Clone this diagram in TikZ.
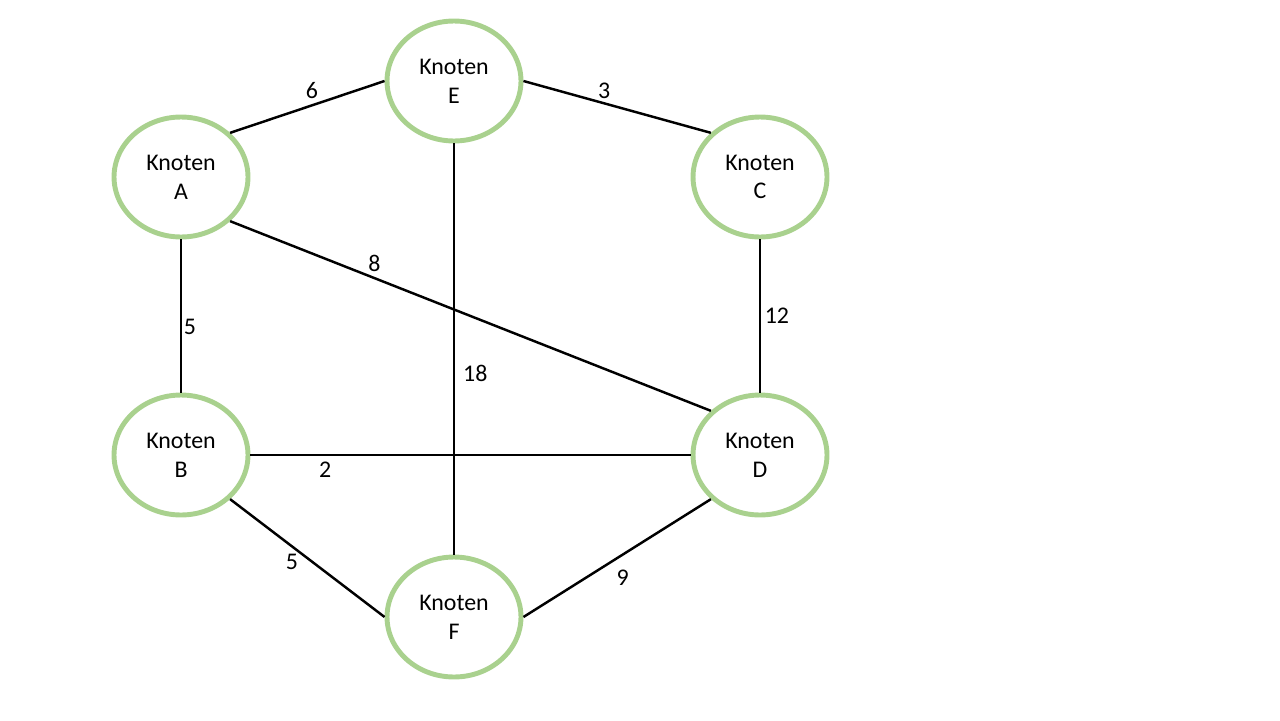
\documentclass[tikz,border=0pt]{standalone}
\usepackage{fontspec}
\setmainfont{Carlito}
\usetikzlibrary{shapes.geometric}
\definecolor{knotengruen}{HTML}{A9D18E}
\begin{document}
\begin{tikzpicture}[x=0.02cm,y=-0.02cm,line join=round,font=\fontsize{13.6}{16.4}\selectfont,
    knoten/.style={ellipse,draw=knotengruen,line width=2.8pt,minimum width=2.68cm,minimum height=2.4cm,inner sep=0pt,align=center},
    kante/.style={line width=1.4pt},
    gewicht/.style={inner sep=2pt}]
            \useasboundingbox (0,0) rectangle (1280,720);
            % Knoten
            \node[knoten] (A) at (181,177) {Knoten\\A};
            \node[knoten] (E) at (454,81) {Knoten\\E};
            \node[knoten] (C) at (760,177) {Knoten\\C};
            \node[knoten] (B) at (181,455) {Knoten\\B};
            \node[knoten] (D) at (760,455) {Knoten\\D};
            \node[knoten] (F) at (454,617) {Knoten\\F};
            % Kanten mit Gewichten
            \draw[kante] (A.north east) -- (E.west) node[gewicht,pos=0.53,above=1pt] (gAE) {6};
            \draw[kante] (E.east) -- (C.north west) node[gewicht,pos=0.43,above=0pt] (gEC) {3};
            \draw[kante] (A.south) -- (B.north) node[gewicht,pos=0.57,right=-1pt] (gAB) {5};
            \draw[kante] (A.south east) -- (D.north west) node[gewicht,pos=0.3,above=1pt] (gAD) {8};
            \draw[kante] (C.south) -- (D.north) node[gewicht,pos=0.5,right=0pt] (gCD) {12};
            \draw[kante] (E.south) -- (F.north) node[gewicht,pos=0.56,right=2.5pt] (gEF) {18};
            \draw[kante] (B.east) -- (D.west) node[gewicht,pos=0.17,below=1pt] (gBD) {2};
            \draw[kante] (B.south east) -- (F.west) node[gewicht,pos=0.4,below=2pt] (gBF) {5};
            \draw[kante] (F.east) -- (D.south west) node[gewicht,pos=0.53,below=6pt] (gFD) {9};
        \end{tikzpicture}
\end{document}
